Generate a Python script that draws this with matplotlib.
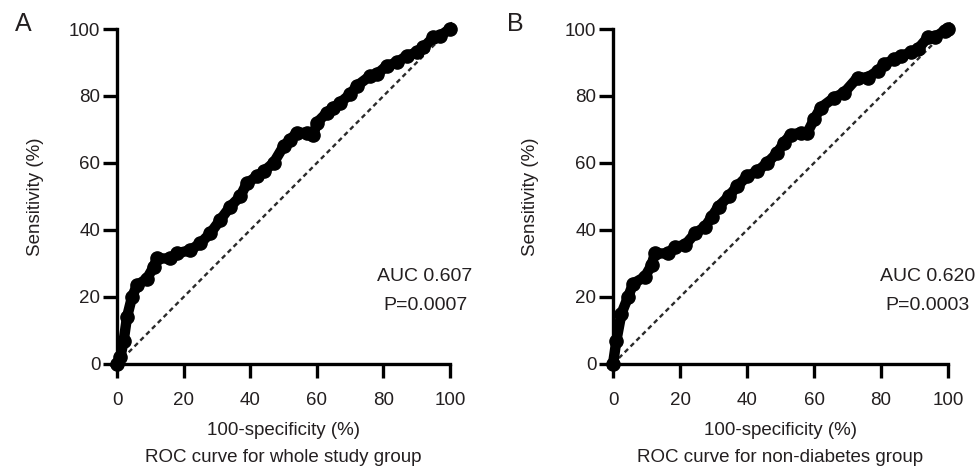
import matplotlib
matplotlib.use("Agg")
import matplotlib.pyplot as plt

plt.rcParams['font.family'] = ['Liberation Sans', 'DejaVu Sans']

# ROC curve, whole study group (100-specificity %, sensitivity %)
fpr_all = [0, 1, 2, 3, 4.5, 6, 9, 11, 12, 16, 18, 22, 25, 28, 31, 34, 37, 39, 42, 44,
           47, 50, 52, 54, 57, 59, 60, 63, 65, 67, 70, 72, 76, 78, 81, 84, 87, 90, 92,
           95, 97, 100]
tpr_all = [0, 2, 7, 14, 20, 23.5, 25.5, 29, 31.5, 31.5, 33, 34, 36, 39, 43, 47, 50, 54,
           56, 57.5, 60, 65, 67, 69, 69, 68.5, 72, 75, 76.5, 78, 80.5, 83, 86, 86.5, 89,
           90, 92, 93, 94.5, 97.5, 98, 100]

# ROC curve, non-diabetes group
fpr_nd = [0, 1, 2.5, 4.5, 6, 9.5, 11.5, 12.5, 16.5, 18.5, 21.5, 24.5, 27.5, 29.5, 31.5,
          34.5, 37, 40, 43, 46, 49, 51, 53, 56, 58, 60, 62, 66, 69, 73, 76, 79, 81, 84,
          86, 89, 91, 94, 96, 99, 100]
tpr_nd = [0, 7, 15, 20, 24, 26, 29.5, 33, 33, 35, 35.5, 39, 41, 44, 47, 50, 53, 56, 57.5,
          60, 63, 66, 68.5, 69, 69, 73, 76.5, 79.5, 81, 85.5, 85.5, 87.5, 89.5, 91, 92,
          93, 94, 97.5, 97.5, 99.5, 100]

ticks = [0, 20, 40, 60, 80, 100]
panels = [
    ("A", fpr_all, tpr_all, "AUC 0.607", "P=0.0007", "ROC curve for whole study group"),
    ("B", fpr_nd, tpr_nd, "AUC 0.620", "P=0.0003", "ROC curve for non-diabetes group"),
]
ink = '#231f20'

fig = plt.figure(figsize=(9.76, 4.67), dpi=100)
axes_pos = [[0.1199, 0.2206, 0.3412, 0.7173],
            [0.6281, 0.2206, 0.3432, 0.7173]]
letter_x = [0.0236, 0.5277]
stats_x = [92.5, 94.0]

for i, (letter, fx, ty, auc, pval, caption) in enumerate(panels):
    ax = fig.add_axes(axes_pos[i])
    ax.plot([0, 100], [0, 100], color='#2a2a2a', lw=1.7,
            linestyle=(0, (2, 1.5)), zorder=2)
    ax.plot(fx, ty, '-o', color='black', lw=7.5, ms=9.5, clip_on=False, zorder=3)

    ax.set_xlim(0, 100)
    ax.set_ylim(0, 100)
    ax.set_xticks(ticks)
    ax.set_yticks(ticks)
    for s in ['top', 'right']:
        ax.spines[s].set_visible(False)
    for s in ['left', 'bottom']:
        ax.spines[s].set_linewidth(2.4)
    ax.tick_params(axis='both', length=10, width=2.4, labelsize=13.5, colors=ink)
    ax.tick_params(axis='y', pad=2)
    ax.tick_params(axis='x', pad=10)
    ax.tick_params(axis='both', color='black')

    ax.set_ylabel("Sensitivity (%)", fontsize=13.5, color=ink, va='center')
    ax.yaxis.set_label_coords(-0.245, 0.5)
    ax.set_xlabel("100-specificity (%)", fontsize=13.5, color=ink, va='center')
    ax.xaxis.set_label_coords(0.5, -0.2)
    ax.text(0.5, -0.28, caption, transform=ax.transAxes, ha='center',
            va='center', fontsize=13.5, color=ink)

    ax.text(stats_x[i], 26, auc, ha='center', va='center', fontsize=14, color=ink)
    ax.text(stats_x[i], 17.5, pval, ha='center', va='center', fontsize=14, color=ink)

    fig.text(letter_x[i], 0.948, letter, ha='center', va='center',
             fontsize=18, color=ink)

fig.savefig("out.png", dpi=100)
